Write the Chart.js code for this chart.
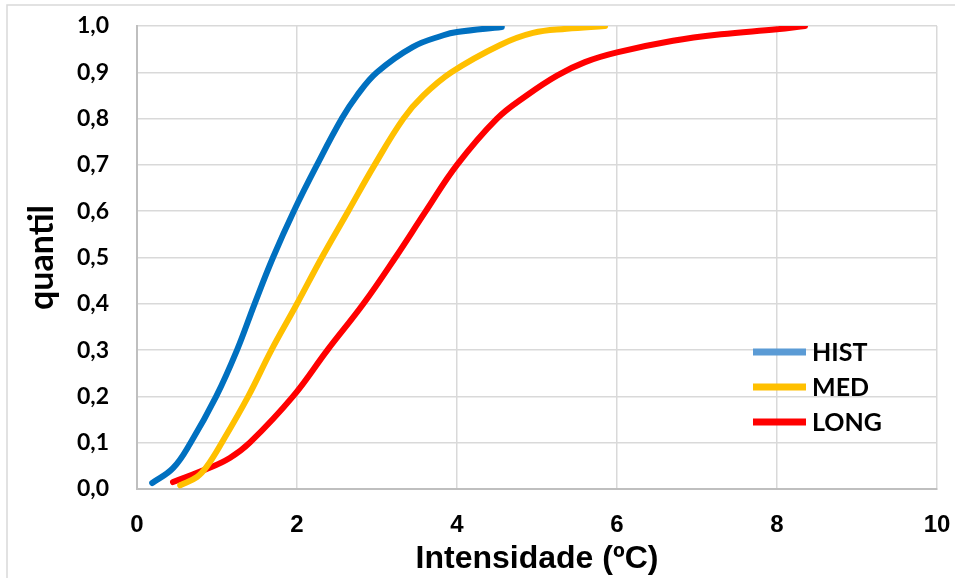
<!DOCTYPE html>
<html>
<head>
<meta charset="utf-8">
<script src="https://cdn.jsdelivr.net/npm/chart.js@4.4.1/dist/chart.umd.min.js"></script>
<style>
  html, body { margin: 0; padding: 0; background: #fff; }
  #wrap { width: 955px; height: 578px; position: relative; }
</style>
</head>
<body>
<div id="wrap"><canvas id="cdfChart" width="955" height="578"></canvas></div>
<script>
// series names
var seriesNames = ["HIST", "MED", "LONG"];

// HIST curve
var histX = [0.19, 0.45, 0.67, 0.99, 1.25, 1.47, 1.70, 1.96, 2.25, 2.56, 2.75, 3.0, 3.45, 3.83, 4.0, 4.56];
var histY = [0.013, 0.045, 0.1, 0.2, 0.3, 0.4, 0.5, 0.6, 0.7, 0.8, 0.85, 0.9, 0.955, 0.98, 0.987, 0.998];

// MED curve
var medX = [0.54, 0.75, 0.87, 1.06, 1.39, 1.68, 2.0, 2.31, 2.64, 2.97, 3.33, 3.58, 3.93, 4.54, 4.95, 5.37, 5.85];
var medY = [0.008, 0.026, 0.048, 0.1, 0.2, 0.3, 0.4, 0.5, 0.6, 0.7, 0.8, 0.85, 0.9, 0.959, 0.985, 0.994, 1.0];

// LONG curve
var longX = [0.45, 0.87, 1.16, 1.41, 1.95, 2.38, 2.83, 3.23, 3.61, 4.0, 4.5, 4.87, 5.25, 5.6, 6.0, 6.7, 7.3, 8.0, 8.35];
var longY = [0.015, 0.043, 0.067, 0.1, 0.2, 0.3, 0.4, 0.5, 0.6, 0.7, 0.8, 0.85, 0.893, 0.922, 0.943, 0.968, 0.982, 0.993, 1.0];

var lineColors = ["#0070C0", "#FFC000", "#FF0000"];
var legendColors = ["#5B9BD5", "#FFC000", "#FF0000"];

function pairs(xs, ys) {
  return xs.map(function (x, i) { return { x: x, y: ys[i] }; });
}

var allSeries = [pairs(histX, histY), pairs(medX, medY), pairs(longX, longY)];

// legend drawn inside the plot, bottom right
var insideLegend = {
  id: 'insideLegend',
  afterDraw: function (chart) {
    var ctx = chart.ctx;
    var area = chart.chartArea;
    ctx.save();
    ctx.font = 'bold 25px Lato';
    ctx.textBaseline = 'middle';
    seriesNames.forEach(function (name, i) {
      var y = area.top + 326 + i * 35;
      var x0 = area.right - 184;
      ctx.fillStyle = legendColors[i];
      ctx.fillRect(x0, y - 3.5, 53, 7);
      ctx.fillStyle = '#000';
      ctx.fillText(name, x0 + 59, y + 1);
    });
    ctx.restore();
  }
};

// thin frame of the chart object
var outerFrame = {
  id: 'outerFrame',
  beforeDraw: function (chart) {
    var ctx = chart.ctx;
    ctx.save();
    ctx.strokeStyle = '#d9d9d9';
    ctx.lineWidth = 1.5;
    ctx.beginPath();
    ctx.moveTo(7, 578);
    ctx.lineTo(7, 5);
    ctx.lineTo(955, 5);
    ctx.stroke();
    ctx.restore();
  }
};

var ctx = document.getElementById('cdfChart').getContext('2d');

var cdfChart = new Chart(ctx, {
  type: 'scatter',
  data: {
    datasets: seriesNames.map(function (name, i) {
      return {
        label: name,
        data: allSeries[i],
        showLine: true,
        borderColor: lineColors[i],
        backgroundColor: lineColors[i],
        borderWidth: 6,
        borderCapStyle: 'round',
        borderJoinStyle: 'round',
        pointRadius: 0,
        tension: 0.4
      };
    })
  },
  options: {
    responsive: false,
    animation: false,
    layout: { padding: { left: 22, top: 26, right: 18, bottom: 0 } },
    plugins: {
      legend: { display: false },
      tooltip: { enabled: false }
    },
    scales: {
      x: {
        type: 'linear',
        min: 0,
        max: 10,
        ticks: {
          stepSize: 2,
          padding: 22,
          color: '#000',
          font: { family: 'Liberation Sans', weight: 'bold', size: 24 }
        },
        grid: { color: '#d9d9d9', lineWidth: 1.5, drawTicks: false },
        border: { color: '#bfbfbf', width: 2 },
        title: {
          display: true,
          text: 'Intensidade (ºC)',
          color: '#000',
          padding: { top: 0, bottom: 0 },
          font: { family: 'Liberation Sans', weight: 'bold', size: 32 }
        },
        afterFit: function (scale) {
          scale.height = 89;
          scale.paddingLeft = 0;
          scale.paddingRight = 0;
        }
      },
      y: {
        min: 0,
        max: 1,
        ticks: {
          stepSize: 0.1,
          padding: 28,
          color: '#000',
          font: { family: 'Lato', weight: 'bold', size: 23 },
          callback: function (v) { return v.toFixed(1).replace('.', ','); }
        },
        grid: { color: '#d9d9d9', lineWidth: 1.5, drawTicks: false },
        border: { color: '#bfbfbf', width: 2 },
        title: {
          display: true,
          text: 'quantil',
          color: '#000',
          padding: { top: 0, bottom: 4 },
          font: { family: 'Lato', weight: 'bold', size: 34 }
        },
        afterFit: function (scale) {
          scale.width = 115;
          scale.paddingTop = 0;
          scale.paddingBottom = 0;
        }
      }
    }
  },
  plugins: [outerFrame, insideLegend]
});
</script>
</body>
</html>
